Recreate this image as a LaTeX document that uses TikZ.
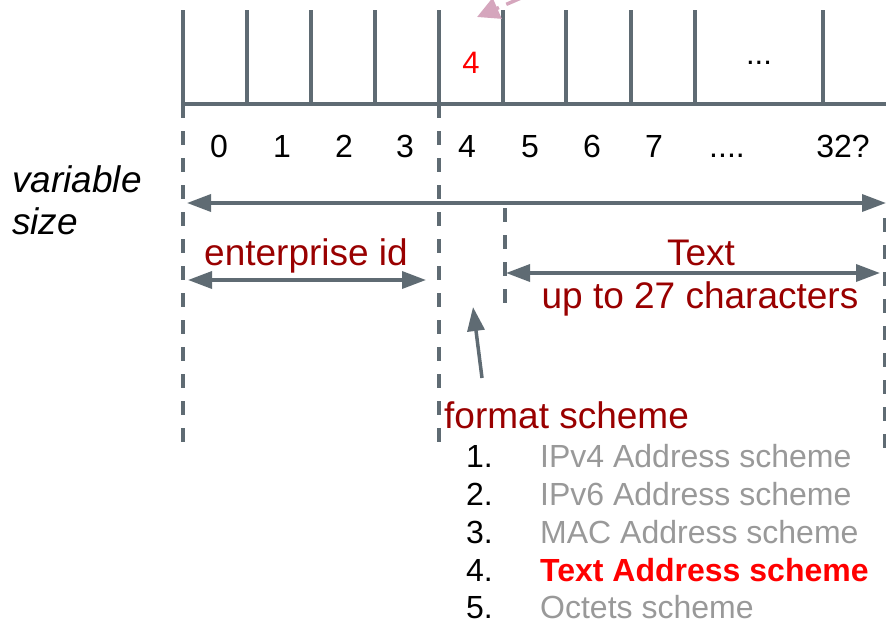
\documentclass[tikz,border=0pt]{standalone}
\usepackage{fontspec}
\setmainfont{Liberation Sans}
\usetikzlibrary{arrows.meta}
\definecolor{rulegray}{HTML}{5F6B73}
\definecolor{labelred}{HTML}{990000}
\definecolor{brightred}{HTML}{FF0000}
\definecolor{mutedgray}{HTML}{999999}
\definecolor{pinkmark}{HTML}{D5A6BD}
\begin{document}
\begin{tikzpicture}[x=1pt,y=-1pt,
  cellrule/.style={draw=rulegray,line width=3.5pt},
  guide/.style={draw=rulegray,line width=3.5pt,dash pattern=on 14pt off 13pt},
  span/.style={draw=rulegray,line width=3.5pt,{Triangle[length=24pt,width=17pt]}-{Triangle[length=24pt,width=17pt]}},
  pointer/.style={draw=rulegray,line width=3.5pt,-{Triangle[length=24pt,width=17pt]}},
  numtxt/.style={inner sep=0pt,anchor=base,font=\fontsize{32}{38}\selectfont},
  redlabel/.style={inner sep=0pt,text=labelred,font=\fontsize{37}{44}\selectfont},
  sidelabel/.style={inner sep=0pt,anchor=base west,font=\fontsize{37}{44}\selectfont\itshape},
  itemnum/.style={inner sep=0pt,anchor=base west,font=\fontsize{32}{38}\selectfont},
  itemtxt/.style={inner sep=0pt,anchor=base west,text=mutedgray,font=\fontsize{32}{38}\selectfont},
]
\useasboundingbox (0,0) rectangle (886,624);
\clip (0,0) rectangle (886,624);

% register cells
\foreach \x [count=\i] in {183,247,311,375,439,503,566,631,695,823} {
  \coordinate (ct\i) at (\x,10);
  \coordinate (cb\i) at (\x,104);
  \draw[cellrule] (ct\i) -- (cb\i);
}
\coordinate (baseend) at (887,104);
\draw[cellrule] (cb1) -- (baseend);

\node[inner sep=0pt,anchor=base,text=brightred,font=\fontsize{31}{36}\selectfont] (cellfour) at (471,73) {4};
\node[inner sep=0pt,anchor=base,font=\fontsize{31}{36}\selectfont] (celldots) at (759,64) {...};

% pink pointer into cell 4
\coordinate (pinkfrom) at (543,-11.5);
\coordinate (pinkto) at (477,17);
\draw[draw=pinkmark,line width=3.5pt,dash pattern=on 16pt off 8pt,-{Triangle[length=22pt,width=22pt]}] (pinkfrom) -- (pinkto);

% byte indices
\foreach \x/\t [count=\i] in {219/0,282/1,344/2,405/3,467/4,530/5,592/6,654/7,843/32?} {
  \node[numtxt] (idx\i) at (\x,157) {\t};
}
\node[numtxt] (idxdots) at (727,157) {....};

% dashed guides
\coordinate (ga1) at (183,104); \coordinate (ga2) at (183,452);
\coordinate (gb1) at (439,104); \coordinate (gb2) at (439,452);
\coordinate (gc1) at (505,208); \coordinate (gc2) at (505,307);
\coordinate (gd1) at (884.5,218); \coordinate (gd2) at (884.5,456);
\draw[guide] (ga1) -- (ga2);
\draw[guide] (gb1) -- (gb2);
\draw[guide] (gc1) -- (gc2);
\draw[guide] (gd1) -- (gd2);

% overall size
\node[sidelabel] (varlbl) at (12,192) {variable};
\node[sidelabel] (sizelbl) at (12,234) {size};
\coordinate (va) at (187,203); \coordinate (vb) at (886,203);
\draw[span] (va) -- (vb);

% enterprise id span
\node[redlabel,anchor=base] (entlbl) at (306,265) {enterprise id};
\coordinate (ea) at (188,280); \coordinate (eb) at (426,280);
\draw[span] (ea) -- (eb);

% text span
\node[redlabel,anchor=base] (textlbl) at (701,265) {Text};
\node[redlabel,anchor=base] (textsub) at (700,308) {up to 27 characters};
\coordinate (ta) at (506,273); \coordinate (tb) at (880,273);
\draw[span] (ta) -- (tb);

% format scheme
\node[redlabel,anchor=base west] (fmtlbl) at (444,428) {format scheme};
\coordinate (fa) at (482,378); \coordinate (fb) at (473,307);
\draw[pointer] (fa) -- (fb);

\node[itemnum] (n1) at (466,467) {1.};
\node[itemtxt] (s1) at (540,467) {IPv4 Address scheme};
\node[itemnum] (n2) at (466,505) {2.};
\node[itemtxt] (s2) at (540,505) {IPv6 Address scheme};
\node[itemnum] (n3) at (466,543) {3.};
\node[itemtxt] (s3) at (540,543) {MAC Address scheme};
\node[itemnum] (n4) at (466,581) {4.};
\node[itemtxt,text=brightred,font=\fontsize{32}{38}\selectfont\bfseries] (s4) at (540,581) {Text Address scheme};
\node[itemnum] (n5) at (466,618) {5.};
\node[itemtxt] (s5) at (540,618) {Octets scheme};
\end{tikzpicture}
\end{document}
